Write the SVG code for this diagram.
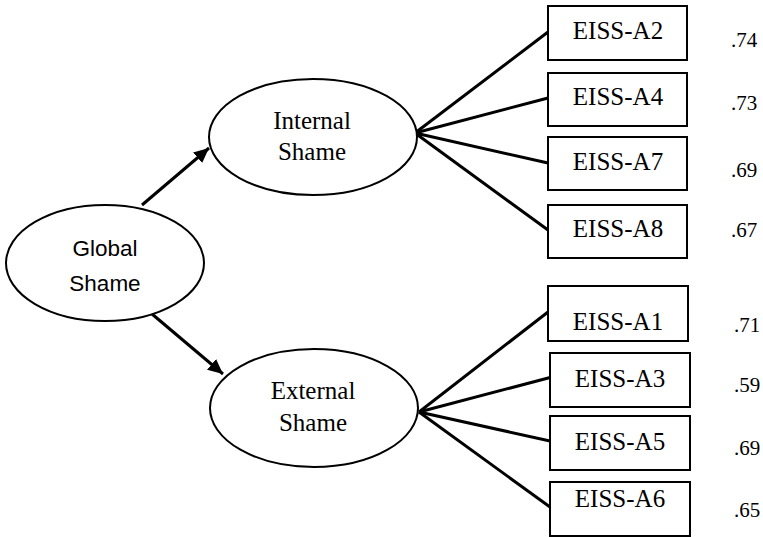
<svg xmlns="http://www.w3.org/2000/svg" width="763" height="537" viewBox="0 0 763 537">
<style>
.lat{fill:#fff;stroke:#000;stroke-width:2}
.box{fill:#fff;stroke:#000;stroke-width:2}
.t{font-family:"Liberation Serif","Times New Roman",serif;font-size:25px;fill:#000;text-anchor:middle}
.s{font-family:"Liberation Sans",Arial,sans-serif;font-size:22.5px;fill:#000;text-anchor:middle}
.n{font-family:"Liberation Serif","Times New Roman",serif;font-size:21px;fill:#000}
.c{stroke:#000;stroke-width:3;fill:none}
</style>
<defs>
<marker id="ah" markerUnits="userSpaceOnUse" markerWidth="16" markerHeight="14" refX="15" refY="7" orient="auto">
<path d="M0,0 L15,7 L0,14 Z" fill="#000"/>
</marker>
</defs>
<rect width="763" height="537" fill="#fff"/>
<g id="connectors">
<line class="c" x1="142" y1="205" x2="209" y2="148" marker-end="url(#ah)"/>
<line class="c" x1="152" y1="314" x2="223" y2="374" marker-end="url(#ah)"/>
<line class="c" x1="415" y1="133" x2="548" y2="32"/>
<line class="c" x1="415" y1="133" x2="548" y2="98"/>
<line class="c" x1="415" y1="133" x2="548" y2="163"/>
<line class="c" x1="415" y1="133" x2="548" y2="230"/>
<line class="c" x1="419" y1="412" x2="548" y2="312"/>
<line class="c" x1="419" y1="412" x2="552" y2="377"/>
<line class="c" x1="419" y1="412" x2="550" y2="441"/>
<line class="c" x1="419" y1="412" x2="550" y2="507"/>
</g>
<g id="global">
<ellipse class="lat" cx="105" cy="263" rx="99" ry="58"/>
<text class="s" x="105" y="256">Global</text>
<text class="s" x="105" y="291">Shame</text>
</g>
<g id="internal">
<ellipse class="lat" cx="313" cy="137" rx="104" ry="58"/>
<text class="t" x="312" y="129">Internal</text>
<text class="t" x="312" y="160">Shame</text>
</g>
<g id="external">
<ellipse class="lat" cx="314" cy="408" rx="104" ry="59"/>
<text class="t" x="313" y="399">External</text>
<text class="t" x="313" y="431">Shame</text>
</g>
<g id="a2"><rect class="box" x="548" y="6" width="139" height="54"/><text class="t" x="618" y="39">EISS-A2</text><text class="n" x="731" y="47">.74</text></g>
<g id="a4"><rect class="box" x="548" y="73" width="139" height="53"/><text class="t" x="618" y="105">EISS-A4</text><text class="n" x="731" y="110">.73</text></g>
<g id="a7"><rect class="box" x="548" y="137" width="139" height="53"/><text class="t" x="618" y="170">EISS-A7</text><text class="n" x="731" y="177">.69</text></g>
<g id="a8"><rect class="box" x="548" y="205" width="139" height="53"/><text class="t" x="618" y="237">EISS-A8</text><text class="n" x="731" y="237">.67</text></g>
<g id="a1"><rect class="box" x="548" y="286" width="140" height="55"/><text class="t" x="618" y="330">EISS-A1</text><text class="n" x="734" y="332">.71</text></g>
<g id="a3"><rect class="box" x="550" y="353" width="140" height="54"/><text class="t" x="620" y="387">EISS-A3</text><text class="n" x="734" y="392">.59</text></g>
<g id="a5"><rect class="box" x="550" y="416" width="140" height="54"/><text class="t" x="620" y="450">EISS-A5</text><text class="n" x="734" y="455">.69</text></g>
<g id="a6"><rect class="box" x="550" y="482" width="140" height="54"/><text class="t" x="620" y="507">EISS-A6</text><text class="n" x="734" y="517">.65</text></g>
</svg>
